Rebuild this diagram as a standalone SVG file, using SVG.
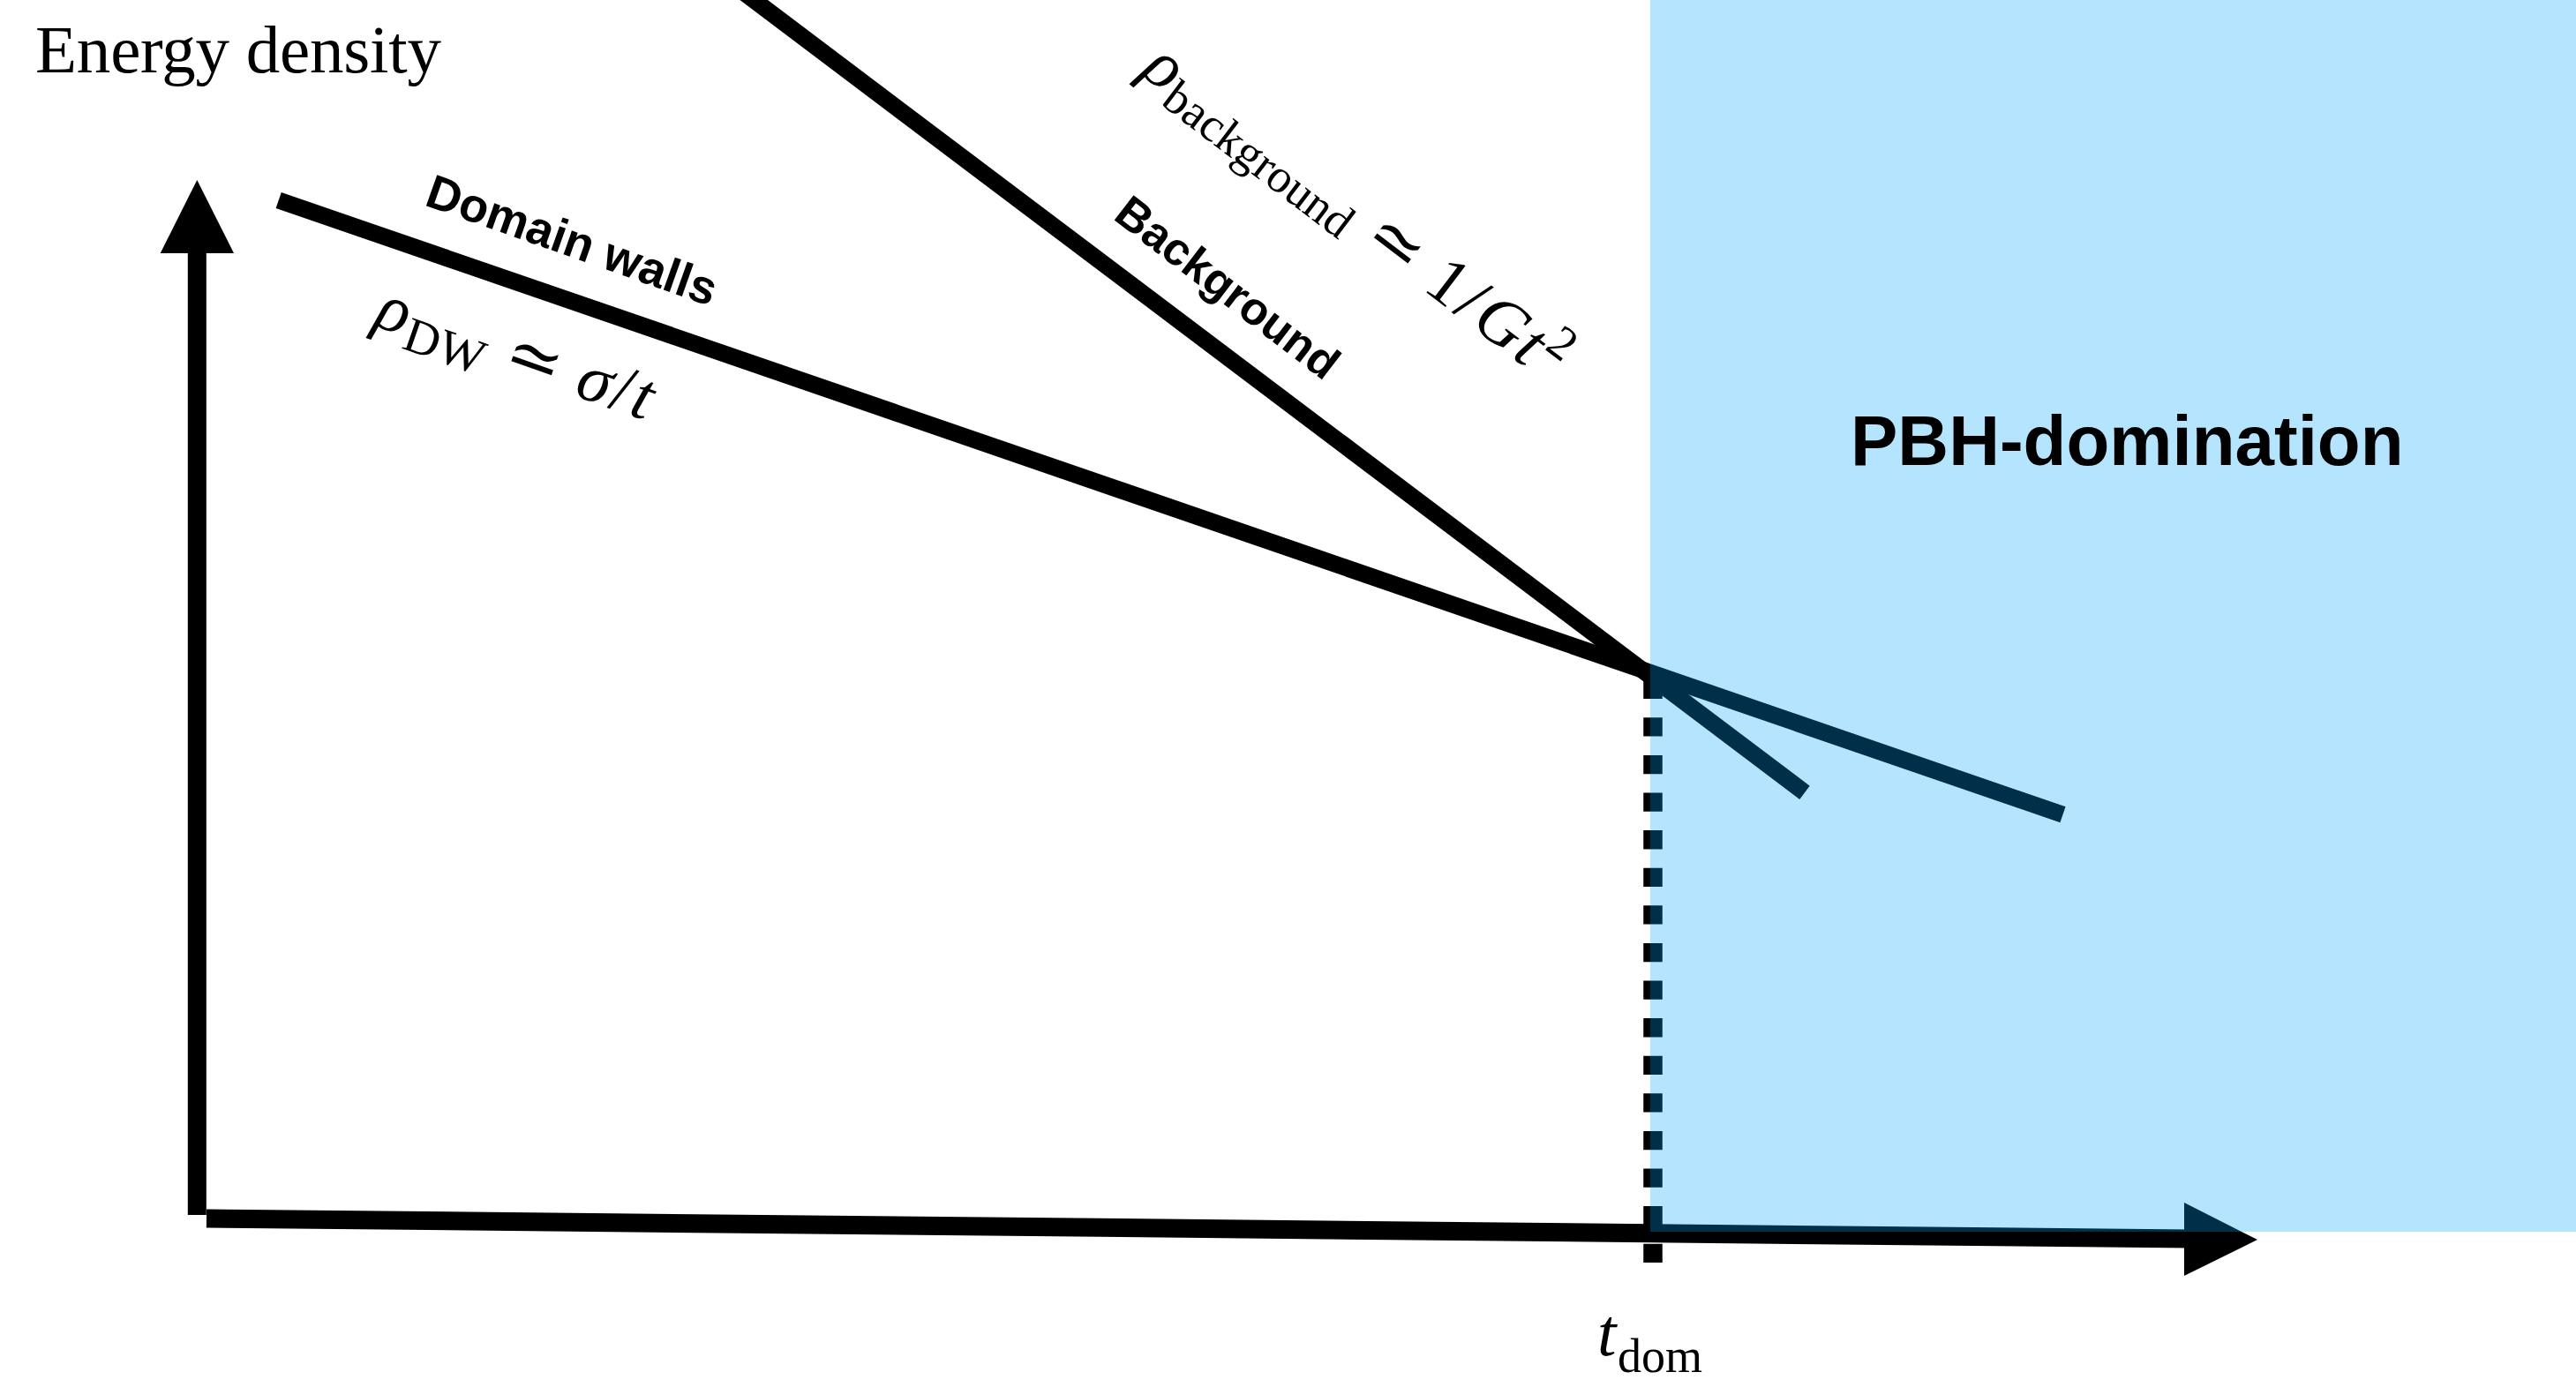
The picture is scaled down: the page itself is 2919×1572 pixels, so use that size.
<svg xmlns="http://www.w3.org/2000/svg" width="2919" height="1572" viewBox="0 0 2919 1572">
  <style>
    .serif { font-family: "Liberation Serif", "DejaVu Serif", serif; fill: #000; }
    .it { font-style: italic; }
    .sans { font-family: "Liberation Sans", Arial, sans-serif; font-weight: bold; fill: #000; }
    .curve { stroke: #000; stroke-width: 19; fill: none; stroke-linecap: butt; }
    .axis { stroke: #000; stroke-width: 21; fill: none; stroke-linecap: butt; }
  </style>
  <rect width="2919" height="1572" fill="#ffffff"/>

  <!-- axes and curves -->
  <g id="connectors">
    <g id="y-axis">
      <line class="axis" x1="223.3" y1="1377" x2="223.3" y2="280"/>
      <polygon points="181.7,287 265,287 223.3,204" fill="#000"/>
    </g>
    <g id="x-axis">
      <line class="axis" x1="234" y1="1381" x2="2482" y2="1404"/>
      <polygon points="2475,1363 2558,1405 2475,1446" fill="#000"/>
    </g>
    <line id="domain-wall-curve" class="curve" x1="315.7" y1="227" x2="2337.5" y2="923.3"/>
    <line id="background-curve" class="curve" x1="827.7" y1="-20" x2="2045" y2="898.3"/>
    <line id="t-dom-marker" stroke="#000" stroke-width="21.5" stroke-dasharray="21.3 21.3" x1="1873" y1="770.7" x2="1873" y2="1432"/>
  </g>

  <!-- PBH-dominated era, tinted over everything beneath it -->
  <g id="pbh-region">
    <rect x="1870" y="0" width="1049" height="1396" fill="#00A5FC" fill-opacity="0.29"/>
    <text class="sans" x="2097" y="527" font-size="80">PBH-domination</text>
  </g>

  <g id="y-label">
    <text class="serif" x="40" y="81.5" font-size="77" textLength="460" lengthAdjust="spacing">Energy density</text>
  </g>

  <g id="domain-walls-label">
    <text class="sans" x="479.5" y="232" font-size="54" transform="rotate(19.5 479.5 232)">Domain walls</text>
  </g>

  <g id="domain-walls-formula">
    <text class="serif" x="421.7" y="368.2" font-size="77" transform="rotate(19.3 421.7 368.2)"><tspan class="it">ρ</tspan><tspan font-size="56" dy="14" dx="2">DW</tspan><tspan dy="-14" dx="22">≃</tspan><tspan class="it" dx="22">σ</tspan><tspan dx="3">/</tspan><tspan class="it" dx="3">t</tspan></text>
  </g>

  <g id="background-label">
    <text class="sans" x="1260" y="247.6" font-size="52" transform="rotate(37.5 1260 247.6)">Background</text>
  </g>

  <g id="background-formula">
    <text class="serif" x="1291" y="83.6" font-size="77" transform="rotate(37.3 1291 83.6)"><tspan class="it">ρ</tspan><tspan font-size="54" dy="13" dx="2">background</tspan><tspan dy="-13" dx="22">≃</tspan><tspan dx="22">1</tspan><tspan dx="4">/</tspan><tspan class="it" dx="4">G</tspan><tspan class="it" dx="3">t</tspan><tspan font-size="54" dy="-30" dx="3">2</tspan></text>
  </g>

  <g id="t-dom-label">
    <text class="serif it" x="1810" y="1536" font-size="77">t</text>
    <text class="serif" x="1833" y="1555" font-size="54">dom</text>
  </g>
</svg>
